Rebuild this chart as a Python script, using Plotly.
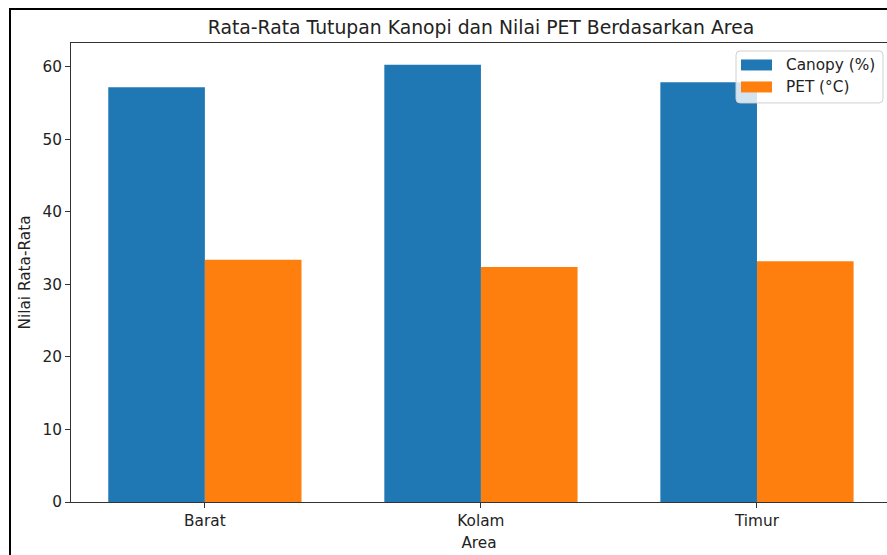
import plotly.graph_objects as go

areas = ["Barat", "Kolam", "Timur"]
canopy = [57.2, 60.3, 57.9]
pet = [33.4, 32.4, 33.2]

W, H = 887, 555
L, R, T, B = 71, 887, 43, 502.5
FONT = "DejaVu Sans"
FS = 15.3


def px(x):
    return (x - L) / (R - L)


def py(y):
    return (B - y) / (B - T)


fig = go.Figure()
fig.add_trace(go.Bar(x=areas, y=canopy, name="Canopy (%)", marker=dict(color="#1f77b4", line_width=0)))
fig.add_trace(go.Bar(x=areas, y=pet, name="PET (°C)", marker=dict(color="#ff7f0e", line_width=0)))

fig.update_layout(
    width=W, height=H,
    margin=dict(l=L, r=W - R, t=T, b=H - B, pad=0),
    plot_bgcolor="white", paper_bgcolor="white",
    barmode="group", bargap=0.3, bargroupgap=0,
    showlegend=False,
    font=dict(family=FONT, size=FS, color="#222"),
    title=dict(text="Rata-Rata Tutupan Kanopi dan Nilai PET Berdasarkan Area",
               x=481 / W, xanchor="center", y=1 - 27 / H, yanchor="middle",
               font=dict(size=18.8, color="#222")),
)
fig.update_xaxes(range=[-0.485, 2.471], showgrid=False, showline=True, linecolor="#333",
                 linewidth=1, mirror=True, ticks="outside", ticklen=5, tickcolor="#333",
                 title=dict(text="Area", standoff=7, font=dict(size=FS)))
fig.update_yaxes(range=[0, 63.3], tickvals=[0, 10, 20, 30, 40, 50, 60], showgrid=False,
                 zeroline=False, showline=True, linecolor="#333", linewidth=1,
                 ticks="outside", ticklen=5, tickcolor="#333",
                 title=dict(text="Nilai Rata-Rata", standoff=8, font=dict(size=FS)))

# outer screenshot frame
fig.add_shape(type="path", xref="paper", yref="paper",
              path=f"M {px(10)} {py(565)} L {px(10)} {py(9)} L {px(900)} {py(9)}",
              line=dict(color="black", width=2))

# legend box (matplotlib style)
x0, x1, y0, y1, r = px(736), px(883), py(51), py(103), 4
rx, ry = r / (R - L), r / (B - T)
path = (f"M {x0+rx} {y0} L {x1-rx} {y0} Q {x1} {y0} {x1} {y0-ry} "
        f"L {x1} {y1+ry} Q {x1} {y1} {x1-rx} {y1} L {x0+rx} {y1} Q {x0} {y1} {x0} {y1+ry} "
        f"L {x0} {y0-ry} Q {x0} {y0} {x0+rx} {y0} Z")
fig.add_shape(type="path", xref="paper", yref="paper", path=path,
              fillcolor="rgba(255,255,255,0.8)", line=dict(color="#d0d0d0", width=1), layer="above")
for (name, color, yc) in [("Canopy (%)", "#1f77b4", 65), ("PET (°C)", "#ff7f0e", 87)]:
    fig.add_shape(type="rect", xref="paper", yref="paper",
                  x0=px(741), x1=px(772), y0=py(yc - 5.5), y1=py(yc + 5.5),
                  fillcolor=color, line_width=0, layer="above")
    fig.add_annotation(xref="paper", yref="paper", x=px(784), y=py(yc), text=name,
                       showarrow=False, xanchor="left", yanchor="middle",
                       font=dict(size=FS, color="#222"))

fig.write_html("out.html", config={"displayModeBar": False},
               post_script="document.body.style.margin='0';")
